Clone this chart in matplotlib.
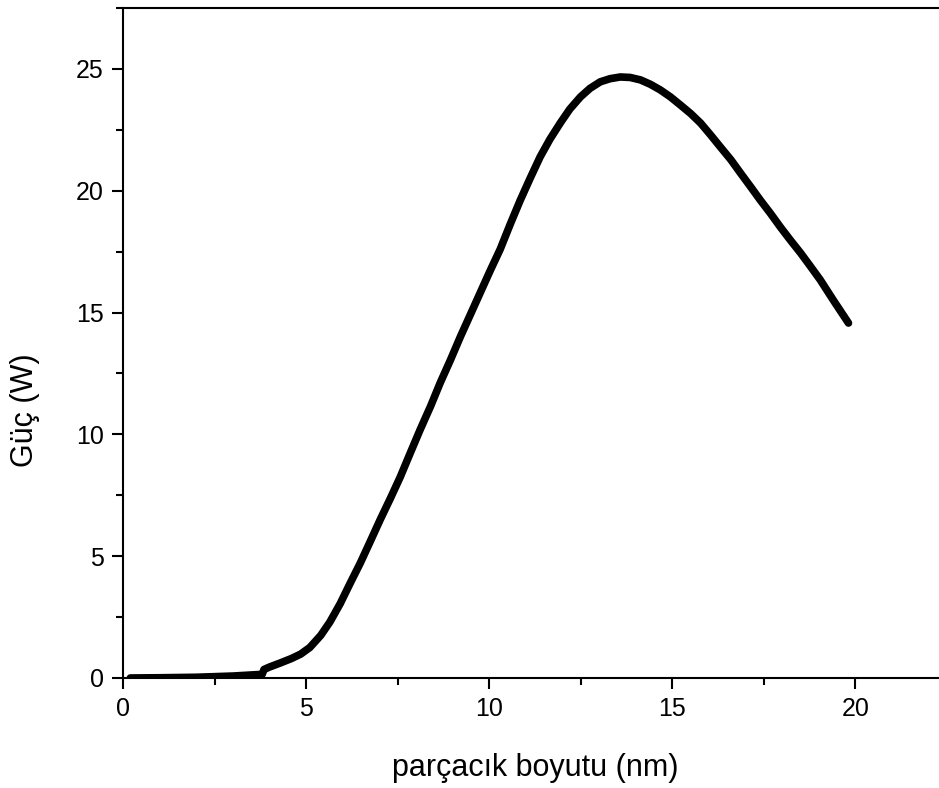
import matplotlib.pyplot as plt
import numpy as np
from matplotlib.ticker import MultipleLocator

plt.rcParams['font.family'] = ['Liberation Sans', 'DejaVu Sans']

size_nm = np.array([0.2, 1.0, 2.0, 3.0, 3.8, 3.85, 4.0, 4.3, 4.6, 4.85, 5.1, 5.4,
                    5.65, 5.93, 6.2, 6.48, 6.75, 7.02, 7.3, 7.57, 7.84, 8.11,
                    8.4, 8.66, 8.94, 9.21, 9.48, 9.75, 10.02, 10.3, 10.58, 10.85,
                    11.12, 11.39, 11.66, 11.94, 12.2, 12.49, 12.75, 13.03, 13.3,
                    13.58, 13.85, 14.13, 14.4, 14.67, 14.95, 15.22, 15.5, 15.77,
                    16.04, 16.31, 16.6, 16.86, 17.13, 17.4, 17.68, 17.95, 18.22,
                    18.5, 18.77, 19.04, 19.4, 19.81])
power_w = np.array([0.0, 0.01, 0.03, 0.08, 0.15, 0.35, 0.45, 0.62, 0.8, 0.98, 1.25, 1.75,
                    2.3, 3.05, 3.88, 4.72, 5.6, 6.49, 7.37, 8.25, 9.22, 10.18,
                    11.16, 12.11, 13.05, 14.0, 14.9, 15.8, 16.7, 17.6, 18.65, 19.62,
                    20.52, 21.39, 22.12, 22.78, 23.35, 23.85, 24.2, 24.47, 24.6,
                    24.67, 24.65, 24.55, 24.37, 24.14, 23.85, 23.52, 23.17, 22.78,
                    22.3, 21.8, 21.27, 20.73, 20.18, 19.62, 19.07, 18.51, 17.98,
                    17.45, 16.9, 16.34, 15.5, 14.57])

fig = plt.figure(figsize=(9.39, 7.88), dpi=100)
ax = fig.add_axes([0.131, 0.1396, 0.897, 0.8502])
ax.plot(size_nm, power_w, color='black', lw=5.5, solid_joinstyle='round',
        solid_capstyle='round')

ax.set_xlim(0, 23)
ax.set_ylim(0, 27.5)
ax.xaxis.set_major_locator(MultipleLocator(5))
ax.xaxis.set_minor_locator(MultipleLocator(2.5))
ax.yaxis.set_major_locator(MultipleLocator(5))
ax.yaxis.set_minor_locator(MultipleLocator(2.5))
ax.tick_params(which='major', direction='out', length=8, width=1.5,
               labelsize=18, pad=6, top=False, right=False)
ax.tick_params(which='minor', direction='out', length=5, width=1.5,
               top=False, right=False)
for s in ['left', 'bottom', 'top']:
    ax.spines[s].set_linewidth(1.5)
ax.spines['right'].set_visible(False)

ax.set_xlabel('parçacık boyutu (nm)', fontsize=22)
ax.set_ylabel('Güç (W)', fontsize=22)
ax.xaxis.set_label_coords(0.489, -0.112)
ax.yaxis.set_label_coords(-0.099, 0.40)

fig.savefig('out.png', dpi=100)
